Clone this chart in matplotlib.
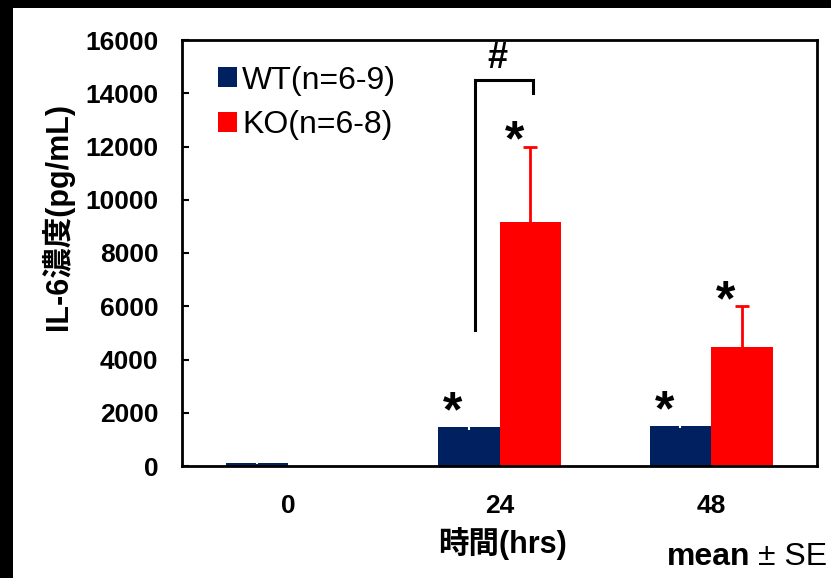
import numpy as np
import matplotlib
matplotlib.use('Agg')
import matplotlib.pyplot as plt
from matplotlib.patches import Rectangle

plt.rcParams['font.family'] = ['Liberation Sans', 'Noto Sans CJK JP']

# data
hours = ['0', '24', '48']
wt_mean = [100, 1450, 1500]
wt_se = [20, 80, 60]
ko_mean = [10, 9150, 4470]
ko_se = [0, 2850, 1540]
wt_label = 'WT(n=6-9)'
ko_label = 'KO(n=6-8)'
wt_star = [False, True, True]
ko_star = [False, True, True]

navy = '#002060'
red = '#ff0000'
W, H = 831, 578

fig = plt.figure(figsize=(W / 100, H / 100), dpi=100, facecolor='black')
fig.add_artist(Rectangle((13 / W, 0), 1, 1 - 8 / H, transform=fig.transFigure,
                         facecolor='white', edgecolor='none', zorder=-10))
ax = fig.add_axes([182 / W, (H - 466) / H, (817 - 182) / W, (466 - 40) / H])

x = np.arange(len(hours)) + 0.5
bw = 0.29
ax.bar(x - bw / 2, wt_mean, bw, color=navy, label=wt_label, zorder=2)
ax.bar(x + bw / 2, ko_mean, bw, color=red, label=ko_label, zorder=2)
# error bars: symmetric but drawn behind the bars, so only the upper half shows
ko_x = x[1:] + bw / 2
ax.errorbar(ko_x, ko_mean[1:], yerr=ko_se[1:], fmt='none',
            ecolor=red, elinewidth=2, capsize=5, capthick=2, zorder=1)
ax.errorbar(x - bw / 2, wt_mean, yerr=[wt_se, np.zeros(3)], fmt='none',
            ecolor='white', elinewidth=1.5, capsize=0, zorder=3)

# significance stars
for i in range(len(hours)):
    if wt_star[i]:
        ax.text(x[i] - bw / 2 - 0.075, wt_mean[i] + wt_se[i] + 450, '*',
                ha='center', va='center', fontsize=36, fontweight='bold')
    if ko_star[i]:
        ax.text(x[i] + bw / 2 - 0.075, ko_mean[i] + ko_se[i] + 150, '*',
                ha='center', va='center', fontsize=36, fontweight='bold')

# bracket for the # comparison
bx0, bx1 = 1.384, 1.658
ax.plot([bx0, bx0, bx1, bx1], [5100, 14500, 14500, 14000], color='black', lw=2.2,
        solid_joinstyle='miter', zorder=4)
ax.text((bx0 + bx1) / 2 - 0.03, 14650, '#', ha='center', va='bottom',
        fontsize=26, fontweight='bold')

ax.set_xlim(0, 3)
ax.set_ylim(0, 16000)
ax.set_yticks(np.arange(0, 16001, 2000))
ax.set_xticks(x)
ax.set_xticklabels(hours)
for lab in ax.get_xticklabels() + ax.get_yticklabels():
    lab.set_fontweight('bold')
    lab.set_fontsize(19)
ax.tick_params(axis='y', direction='in', length=5, width=1.5, pad=17)
ax.tick_params(axis='x', length=0, pad=20)
for s in ax.spines.values():
    s.set_linewidth(2)

ax.set_ylabel('IL-6濃度(pg/mL)', fontsize=22, fontweight='bold')
ax.yaxis.set_label_coords(-0.17, 0.585)

fig.text(503 / W, 1 - 544 / H, '時間(hrs)', ha='center', va='center',
         fontsize=22, fontweight='bold')
fig.text(750 / W, 1 - 565 / H, 'mean', ha='right', va='baseline',
         fontsize=23, fontweight='bold')
fig.text(758 / W, 1 - 565 / H, '± SE', ha='left', va='baseline', fontsize=23)

ax.legend(loc='upper left', bbox_to_anchor=(0.057, 0.94), frameon=False,
          fontsize=23, handlelength=0.6, handleheight=0.6, handletextpad=0.15,
          labelspacing=0.45, borderaxespad=0, borderpad=0)

fig.savefig('out.png', dpi=100, facecolor=fig.get_facecolor())
